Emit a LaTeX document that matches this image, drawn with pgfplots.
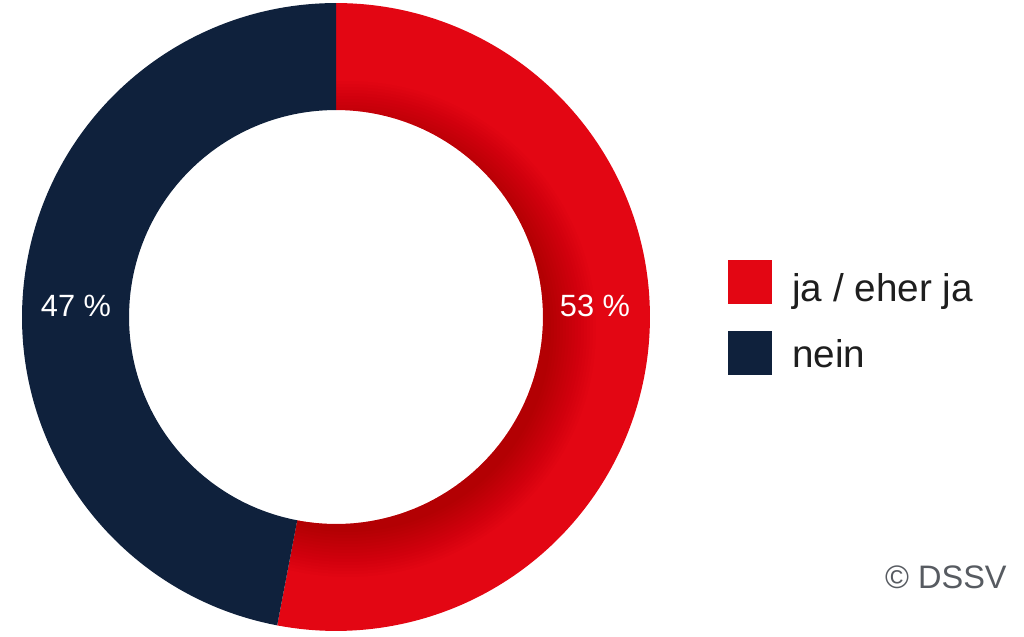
\documentclass[border=0pt]{standalone}
\usepackage{fontspec}
\setmainfont{Liberation Sans}
\usepackage{pgfplots}
\usepackage{pgfplotstable}
\pgfplotsset{compat=1.18}

\definecolor{dred}{HTML}{E30613}
\definecolor{dnavy}{HTML}{0F213C}
\definecolor{dtext}{HTML}{1E1E1E}
\definecolor{dgray}{HTML}{575B61}

\pgfplotstableread{
label value
ja 53
nein 47
}\shares
\pgfplotstablegetelem{0}{value}\of\shares \let\vja\pgfplotsretval
\pgfmathsetmacro\aend{90-3.6*\vja}
\def\Ro{6.28cm}
\def\Ri{4.14cm}

\begin{document}
\begin{tikzpicture}
\begin{axis}[
  scale only axis, x=0.02cm, y=0.02cm,
  xmin=0, xmax=1024, ymin=0, ymax=636,
  hide axis, clip=false]
% ja / eher ja
\fill[dred] ([shift={(90:\Ro)}]axis cs:336,319) arc[start angle=90, end angle=\aend, radius=\Ro]
  -- ([shift={(\aend:\Ri)}]axis cs:336,319) arc[start angle=\aend, end angle=90, radius=\Ri] -- cycle;
% soft shadow on the inner edge of the red part
\begin{scope}
\clip ([shift={(90:\Ro)}]axis cs:336,319) arc[start angle=90, end angle=\aend, radius=\Ro]
  -- ([shift={(\aend:\Ri)}]axis cs:336,319) arc[start angle=\aend, end angle=90, radius=\Ri] -- cycle;
\pgfplotsinvokeforeach{1,...,16}{
  \fill[black, opacity=0.012] (axis cs:348,307) circle[radius={(200+#1*3)*0.02cm}];
}
\end{scope}
% nein
\fill[dnavy] ([shift={(\aend:\Ro)}]axis cs:336,319) arc[start angle=\aend, end angle=-270, radius=\Ro]
  -- ([shift={(90:\Ri)}]axis cs:336,319) arc[start angle=90, end angle=\aend+360, radius=\Ri] -- cycle;

\node[white, anchor=base, font=\fontsize{17.5}{20}\selectfont] at (axis cs:595,319) {53 \%};
\node[white, anchor=base, font=\fontsize{17.5}{20}\selectfont] at (axis cs:76,319) {47 \%};

% legend
\fill[dred] (axis cs:728,332) rectangle (axis cs:772,376);
\fill[dnavy] (axis cs:728,261) rectangle (axis cs:772,305);
\node[dtext, anchor=base west, inner sep=0pt, font=\fontsize{22}{26}\selectfont] at (axis cs:792,334) {ja / eher ja};
\node[dtext, anchor=base west, inner sep=0pt, font=\fontsize{22}{26}\selectfont] at (axis cs:792,268) {nein};

\node[dgray, anchor=base east, inner sep=0pt, font=\fontsize{18.5}{22}\selectfont] at (axis cs:1007,48) {© DSSV};
\end{axis}
\pgfresetboundingbox
\useasboundingbox (current axis.south west) rectangle (current axis.north east);
\end{tikzpicture}
\end{document}
